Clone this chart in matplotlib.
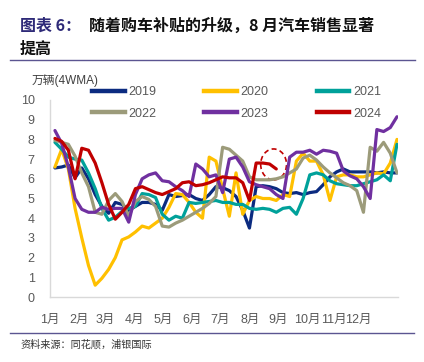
import matplotlib
matplotlib.use("Agg")
import matplotlib.pyplot as plt
from matplotlib.patches import Ellipse
from matplotlib.lines import Line2D

plt.rcParams['font.family'] = ['Liberation Sans', 'Noto Sans CJK SC', 'DejaVu Sans']

# ---------------- data (weekly, 4-week moving average, 万辆) ----------------
years = ["2019", "2020", "2021", "2022", "2023", "2024"]
months = ["1月", "2月", "3月", "4月", "5月", "6月", "7月", "8月", "9月", "10月", "11月", "12月"]

y2019 = [6.55, 6.6, 6.7, 6.05, 6.55, 6.0, 5.2, 4.6, 4.25, 4.8, 4.7, 4.4, 4.6, 4.8, 4.8, 4.7,
         4.4, 5.2, 5.1, 5.15, 5.2, 5.0, 4.9, 5.2, 5.6, 5.55, 5.4, 5.1, 4.4, 3.5, 5.6, 5.65,
         5.6, 5.5, 5.3, 5.25, 5.3, 5.2, 5.3, 5.35, 5.7, 6.1, 6.35, 6.5, 6.35, 6.35, 6.35, 6.35,
         6.3, 6.35, 6.3, 6.3]
y2020 = [6.6, 7.5, 6.5, 4.5, 3.0, 1.6, 0.6, 0.95, 1.4, 2.0, 2.9, 3.05, 3.3, 3.6, 3.5, 3.75,
         4.0, 4.55, 5.25, 5.2, 4.8, 4.3, 4.0, 7.1, 6.9, 5.5, 4.1, 6.3, 4.2, 4.9, 5.1, 5.0,
         5.0, 4.9, 5.2, 5.1, 6.9, 7.3, 6.9, 6.9, 6.2, 4.9, 6.1, 6.2, 6.2, 6.1, 6.1, 6.2,
         6.3, 6.25, 6.8, 8.0]
y2021 = [7.85, 7.5, 7.1, 7.0, 6.95, 6.3, 5.5, 4.5, 3.9, 4.05, 4.35, 4.5, 4.6, 5.25, 5.2, 5.05,
         4.2, 3.9, 4.1, 4.0, 4.8, 4.75, 4.8, 4.85, 4.9, 4.8, 4.8, 4.7, 4.7, 4.5, 4.45, 4.5,
         4.45, 4.3, 4.5, 4.55, 4.2, 5.0, 6.2, 6.3, 6.2, 5.9, 5.75, 5.7, 5.65, 5.65, 5.75, 5.85,
         5.95, 6.2, 5.9, 7.75]
y2022 = [7.95, 7.85, 7.75, 7.15, 6.3, 5.6, 4.3, 4.2, 4.9, 5.25, 4.85, 4.1, 4.85, 5.1, 4.95, 4.6,
         3.6, 3.55, 3.75, 3.9, 4.1, 4.3, 4.5, 4.75, 5.1, 7.6, 7.5, 7.2, 6.9, 6.1, 5.95, 5.95,
         5.95, 6.0, 6.1, 6.3, 6.5, 7.05, 7.2, 6.95, 6.6, 6.3, 6.05, 5.8, 5.65, 5.4, 4.3, 7.6,
         7.4, 7.85, 7.3, 6.3]
y2023 = [8.45, 7.8, 6.6, 5.0, 4.45, 4.3, 4.3, 4.55, 4.45, 4.5, 4.5, 3.8, 5.2, 6.0, 6.2, 6.3,
         5.9, 5.85, 5.6, 5.4, 5.1, 6.75, 6.5, 6.1, 6.2, 5.3, 7.0, 7.1, 6.6, 5.85, 5.7, 5.6,
         5.5, 5.2, 5.0, 7.1, 7.35, 7.35, 7.45, 7.25, 7.45, 7.4, 7.3, 6.4, 6.15, 6.0, 5.6, 5.0,
         8.5, 8.4, 8.6, 9.15]
y2024 = [8.05, 7.9, 7.45, 6.0, 7.55, 7.45, 6.8, 5.8, 4.7, 3.95, 4.3, 4.7, 5.5, 5.6, 5.45, 5.3,
         5.2, 5.35, 5.5, 5.8, 5.85, 5.65, 5.7, 5.8, 5.95, 6.1, 6.05, 6.05, 5.8, 4.9, 6.8, 6.8,
         6.75, 6.5]
series = [y2019, y2020, y2021, y2022, y2023, y2024]
colors = ["#0B2B80", "#FFC000", "#00A19A", "#9C9B7A", "#7030A0", "#C00000"]

# ---------------- figure ----------------
W, H = 424, 362
fig = plt.figure(figsize=(W / 100, H / 100), dpi=100)

def fx(px):
    return px / W

def fy(py):
    return 1 - py / H

ax = fig.add_axes([fx(50), fy(297), 348 / W, 197 / H])

for ys, c, lab in zip(series, colors, years):
    ax.plot(range(len(ys)), ys, color=c, lw=2.3, label=lab, solid_joinstyle='round',
            solid_capstyle='round')

ax.add_patch(Ellipse((32.6, 6.73), width=3.85, height=1.57, fill=False,
                     ec="#C00000", lw=1.2, ls=(0, (3, 2))))

ax.set_xlim(-0.3, 51.15)
ax.set_ylim(0, 10)
ax.set_yticks(range(0, 11))
tick_px = [47, 76, 103, 132, 161, 190, 219, 249, 277, 307, 333, 358]
ax.set_xticks([(p - 52) / 6.765 for p in tick_px])
ax.set_xticklabels(months)
ax.tick_params(axis='both', length=0, labelsize=9, labelcolor="#595959")
ax.tick_params(axis='y', pad=11)
ax.tick_params(axis='x', pad=12)
for s in ["top", "right"]:
    ax.spines[s].set_visible(False)
for s in ["left", "bottom"]:
    ax.spines[s].set_color("#D9D9D9")
    ax.spines[s].set_linewidth(1.0)

# legend laid out row-wise: (2019 2020 2021) / (2022 2023 2024)
order = [0, 3, 1, 4, 2, 5]
handles = [Line2D([0], [0], color=colors[i], lw=3.2) for i in order]
labels = [years[i] for i in order]
leg = fig.legend(handles, labels, ncol=3, loc='upper left',
                 bbox_to_anchor=(fx(92), fy(86)), bbox_transform=fig.transFigure,
                 frameon=False, fontsize=9, handlelength=2.6, handletextpad=0.3,
                 columnspacing=3.85, labelspacing=0.78, borderpad=0, borderaxespad=0)
for t in leg.get_texts():
    t.set_color("#595959")

fig.text(fx(32), fy(81), "万辆(4WMA)", fontsize=8.5, color="#404040", va='center',
         family=['Liberation Sans', 'Noto Sans CJK SC'])

# title
tfam = ['Noto Sans CJK SC', 'DejaVu Sans']
fig.text(fx(20), fy(26), "图表 6：", fontsize=11.5, fontweight='bold', color="#2E2A78",
         va='center', family=tfam)
fig.text(fx(89), fy(26), "随着购车补贴的升级，8 月汽车销售显著", fontsize=11.5,
         fontweight='bold', color="#111111", va='center', family=tfam)
fig.text(fx(20), fy(49), "提高", fontsize=11.5, fontweight='bold', color="#111111",
         va='center', family=tfam)

fig.add_artist(Line2D([fx(10), fx(415)], [fy(60), fy(60)], color="#5B5591", lw=1.0))
fig.add_artist(Line2D([fx(10), fx(414)], [fy(333), fy(333)], color="#5B5591", lw=1.0))

fig.text(fx(20), fy(344), "资料来源：同花顺，浦银国际", fontsize=7.3, color="#333333",
         va='center', family=tfam)

fig.savefig("out.png", dpi=100)
